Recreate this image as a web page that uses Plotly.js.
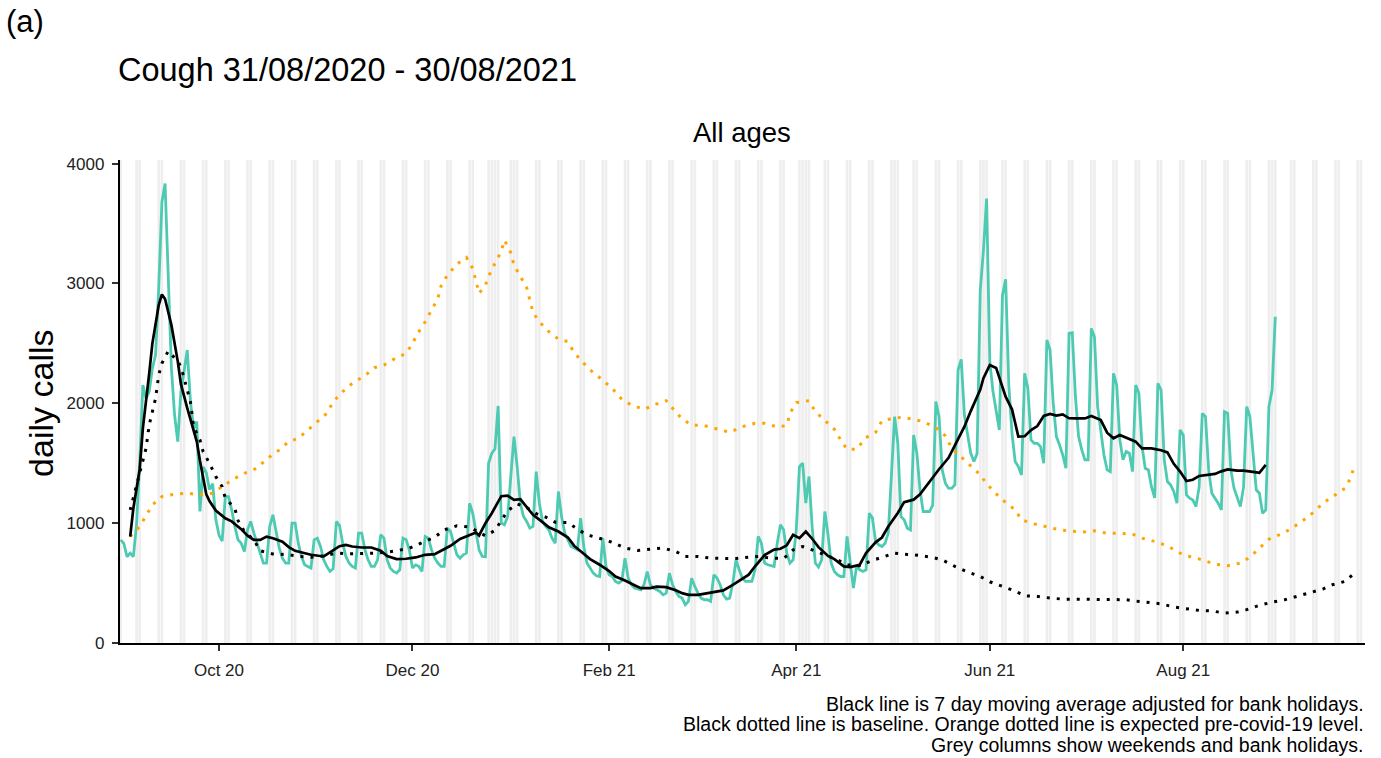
<!DOCTYPE html>
<html><head><meta charset="utf-8">
<script src="https://cdn.plot.ly/plotly-3.0.1.min.js"></script>
<style>html,body{margin:0;padding:0;background:#fff}#chart{width:1381px;height:758px}</style>
</head><body><div id="chart"></div>
<script>
// ---------- DATA ----------
const startDate = '2020-08-31';           // first day of the daily series
// daily calls, one row per week (Mon..Sun), from 31/08/2020 to 30/08/2021
const dailyCalls = [
  860, 830, 720, 750, 720, 985, 1500,
  2152, 2041, 2097, 2291, 2402, 2958, 3680,
  3833, 3013, 2291, 1902, 1680, 2097, 2263,
  2444, 2013, 1791, 1847, 1097, 1470, 1420,
  1280, 1330, 1030, 900, 850, 1222, 1222,
  1111, 972, 861, 833, 764, 945, 1014,
  917, 833, 764, 667, 667, 972, 1069,
  917, 792, 708, 667, 667, 1000, 1000,
  833, 722, 653, 639, 625, 861, 875,
  806, 694, 639, 597, 620, 1014, 980,
  833, 722, 667, 639, 625, 917, 917,
  778, 694, 639, 639, 694, 903, 875,
  694, 625, 597, 583, 611, 875, 861,
  777, 625, 652, 639, 597, 889, 875,
  777, 708, 667, 639, 639, 958, 930,
  833, 736, 708, 736, 750, 1166, 1083,
  916, 777, 722, 720, 1500, 1583, 1620,
  1978, 1000, 986, 1055, 1416, 1722, 1472,
  1167, 1055, 1014, 958, 972, 1430, 1167,
  1014, 972, 944, 875, 833, 1264, 1055,
  917, 861, 805, 792, 778, 1042, 805,
  667, 625, 583, 561, 555, 875, 639,
  569, 555, 514, 500, 520, 708, 541,
  486, 458, 450, 444, 486, 597, 486,
  458, 444, 430, 403, 416, 583, 486,
  430, 389, 375, 319, 347, 541, 472,
  416, 375, 361, 361, 347, 569, 541,
  486, 403, 366, 375, 500, 694, 611,
  541, 514, 514, 514, 611, 889, 833,
  667, 653, 644, 639, 833, 986, 944,
  750, 667, 694, 944, 1472, 1500, 1167,
  1389, 972, 667, 633, 694, 1097, 903,
  667, 597, 569, 555, 555, 889, 667,
  458, 639, 611, 597, 611, 1083, 1042,
  847, 819, 805, 833, 917, 1417, 1889,
  1667, 1055, 1028, 958, 944, 1736, 1583,
  1278, 1097, 1097, 1097, 1150, 2014, 1889,
  1444, 1333, 1292, 1290, 1320, 2278, 2366,
  1900, 1722, 1583, 1514, 1580, 2944, 3278,
  3708, 2350, 2100, 1930, 1778, 2900, 3035,
  2150, 1750, 1514, 1472, 1402, 2250, 2125,
  1694, 1666, 1666, 1639, 1500, 2528, 2444,
  2000, 1722, 1652, 1569, 1458, 2583, 2589,
  2055, 1722, 1611, 1528, 1528, 2625, 2555,
  1972, 1750, 1569, 1444, 1430, 2250, 2152,
  1694, 1528, 1597, 1583, 1430, 2152, 2083,
  1639, 1458, 1444, 1300, 1210, 2166, 2111,
  1528, 1347, 1319, 1264, 1166, 1778, 1736,
  1236, 1208, 1194, 1138, 1300, 1916, 1889,
  1444, 1250, 1208, 1166, 1111, 1930, 1916,
  1444, 1291, 1222, 1138, 1300, 1972, 1889,
  1611, 1278, 1250, 1083, 1111, 1972, 2111,
  2722
];

// 7 day moving average (days after startDate, calls)
const maDay = [3,4,6,7,9,10,12,13,14,16,18,19,21,22,24,25,27,28,30,33,35,38,40,42,44,46,48,51,53,55,58,60,64,66,69,71,73,76,79,82,84,87,90,93,96,99,102,104,107,110,112,113,115,117,118,120,122,124,126,128,130,133,135,138,141,143,146,148,151,154,156,159,162,164,167,169,172,175,177,179,182,185,188,190,193,195,198,200,203,206,208,210,212,214,216,218,220,223,225,228,230,233,235,238,240,242,245,247,250,252,255,258,261,263,266,268,271,272,274,276,279,281,283,285,287,289,291,293,295,297,299,301,304,306,309,311,313,315,318,320,322,325,328,330,332,334,336,338,340,343,345,347,349,352,354,357,359,361];
const maCalls = [888,1124,1450,1791,2250,2500,2820,2908,2870,2652,2350,2160,1960,1870,1680,1520,1240,1185,1105,1041,1015,950,895,860,860,888,874,845,800,769,748,736,722,755,808,818,805,797,797,770,725,700,703,714,736,741,780,811,868,903,922,897,1000,1083,1130,1225,1230,1195,1200,1139,1069,1008,966,930,880,810,740,700,653,600,555,522,482,458,458,470,466,440,416,402,402,416,428,439,485,522,570,640,733,779,786,815,903,875,930,870,800,727,700,639,633,653,750,840,880,972,1085,1175,1196,1240,1347,1450,1545,1653,1805,1935,2115,2210,2319,2295,2055,1950,1722,1725,1777,1810,1894,1911,1897,1908,1875,1874,1874,1894,1860,1755,1708,1736,1705,1680,1624,1624,1608,1590,1495,1430,1352,1362,1394,1402,1411,1432,1449,1438,1438,1428,1420,1486];

// baseline (black dotted)
const baselineDay = [3,4,6,8,9,10,11,12,13,15,18,19,20,21,22,23,25,26,28,30,32,33,36,37,39,42,44,49,52,56,60,64,68,72,76,80,83,87,91,94,95,99,102,106,110,113,115,118,120,122,125,128,131,134,137,141,144,147,152,155,159,163,167,171,175,178,182,186,190,194,198,201,205,209,212,215,218,222,226,229,233,237,241,244,248,252,256,259,263,267,271,274,278,282,285,289,293,297,301,305,309,313,317,321,324,328,332,336,340,344,348,352,355,359,363,367,371,375,379,382,386,389];
const baselineCalls = [1110,1213,1416,1624,1819,1930,2041,2236,2333,2436,2352,2305,2208,2125,2013,1805,1694,1597,1499,1388,1305,1208,1124,1022,930,860,769,736,741,722,716,727,750,744,744,750,755,769,791,824,839,883,944,978,967,922,894,939,1022,1103,1160,1130,1080,1050,1008,1005,950,903,866,839,792,772,783,792,764,722,722,708,705,705,716,722,708,705,777,805,777,733,694,652,644,689,722,750,739,730,714,694,639,593,555,511,472,433,394,389,375,366,366,366,361,361,361,347,339,327,300,283,272,267,250,258,278,314,341,361,389,422,450,486,514,583];

// expected pre-covid-19 level (orange dotted)
const expectedDay = [3,6,10,13,17,21,25,29,32,36,39,43,46,50,53,56,59,62,65,67,70,73,77,80,83,86,90,92,94,96,98,100,101,103,106,109,111,112,113,115,116,118,120,121,123,124,126,128,129,130,132,135,138,141,143,146,149,152,155,158,161,165,168,172,174,177,180,184,188,192,196,200,203,207,210,211,213,215,217,219,222,225,227,229,232,235,238,240,243,246,250,253,257,260,262,265,268,271,273,276,279,282,284,288,292,296,299,303,307,311,315,319,322,326,330,334,337,341,345,349,353,356,359,362,366,369,373,376,379,383,386,388,389];
const expectedCalls = [888,972,1152,1222,1241,1250,1236,1250,1305,1374,1416,1458,1535,1610,1680,1708,1777,1847,1916,2013,2097,2166,2230,2297,2319,2366,2416,2500,2597,2680,2778,2875,2978,3069,3161,3217,3125,3022,2917,2986,3061,3167,3269,3361,3255,3153,3061,2966,2861,2758,2680,2597,2536,2514,2422,2333,2255,2194,2122,2033,1986,1950,1986,2022,1958,1869,1819,1814,1786,1758,1805,1833,1833,1803,1814,1917,2005,2011,2022,1931,1855,1783,1694,1616,1616,1714,1758,1853,1872,1883,1867,1847,1797,1728,1625,1555,1478,1403,1328,1244,1172,1111,1027,994,972,944,936,925,936,916,916,908,875,847,811,750,722,694,658,644,667,716,791,866,911,953,1027,1089,1166,1236,1291,1389,1494];

const bankHolidays = ['2020-08-31','2020-12-25','2020-12-28','2021-01-01','2021-04-02','2021-04-05','2021-05-03','2021-05-31','2021-08-30'];
const greyEndDate = '2021-09-26';
const tickDates = ['2020-10-01','2020-12-01','2021-02-01','2021-04-01','2021-06-01','2021-08-01'];
const tickLabels = ['Oct 20','Dec 20','Feb 21','Apr 21','Jun 21','Aug 21'];
const yTicks = [0, 1000, 2000, 3000, 4000];

// ---------- HELPERS ----------
const DAY = 86400000;
const t0 = Date.parse(startDate + 'T00:00:00Z');
function fmt(ms){ return new Date(ms).toISOString().replace('T',' ').slice(0,19); }
function dayToDate(d){ return fmt(t0 + d*DAY); }

const dailyX = dailyCalls.map((_, i) => dayToDate(i));

// grey columns
const shapes = [];
function greyCol(ms){
  shapes.push({type:'rect', layer:'below', xref:'x', yref:'paper',
    x0: fmt(ms - 0.42*DAY), x1: fmt(ms + 0.42*DAY), y0:0, y1:1,
    fillcolor:'rgba(0,0,0,0.065)', line:{width:0}});
}
const tEnd = Date.parse(greyEndDate + 'T00:00:00Z');
for (let t = t0; t <= tEnd; t += DAY){
  const wd = new Date(t).getUTCDay();
  if (wd === 0 || wd === 6) greyCol(t);
}
bankHolidays.forEach(h => greyCol(Date.parse(h + 'T00:00:00Z')));

// ---------- TRACES ----------
const traces = [
  {x: dailyX, y: dailyCalls, type:'scatter', mode:'lines',
   line:{color:'#4ecab2', width:2.8}, hoverinfo:'skip', showlegend:false},
  {x: expectedDay.map(dayToDate), y: expectedCalls, type:'scatter', mode:'lines',
   line:{color:'#ffa500', width:3, dash:'3px,7px'}, hoverinfo:'skip', showlegend:false},
  {x: baselineDay.map(dayToDate), y: baselineCalls, type:'scatter', mode:'lines',
   line:{color:'#000000', width:3, dash:'3px,7px'}, hoverinfo:'skip', showlegend:false},
  {x: maDay.map(dayToDate), y: maCalls, type:'scatter', mode:'lines',
   line:{color:'#000000', width:2.7}, hoverinfo:'skip', showlegend:false}
];

const FONT = 'Liberation Sans, Arial, sans-serif';
const layout = {
  width:1381, height:758,
  paper_bgcolor:'#ffffff', plot_bgcolor:'#ffffff',
  margin:{l:120, r:16, t:160, b:115},
  font:{family:FONT, color:'#000'},
  showlegend:false,
  xaxis:{type:'date', range:['2020-08-30 19:00:00','2021-09-27 07:00:00'],
    tickvals: tickDates, ticktext: tickLabels,
    showline:true, linecolor:'#000', linewidth:2.2,
    ticks:'outside', ticklen:6, tickwidth:2, tickcolor:'#333', ticklabelstandoff:4,
    tickfont:{size:17, color:'#222', family:FONT},
    showgrid:false, zeroline:false, fixedrange:true},
  yaxis:{range:[0,4030], tickvals:yTicks,
    showline:true, linecolor:'#000', linewidth:2.2,
    ticks:'outside', ticklen:6, tickwidth:2, tickcolor:'#333', ticklabelstandoff:4,
    tickfont:{size:17, color:'#222', family:FONT},
    showgrid:false, zeroline:false, fixedrange:true},
  shapes: shapes,
  annotations:[
    {text:'(a)', xref:'paper', yref:'paper', x:-0.093, y:1.286, xanchor:'left', yanchor:'middle',
     showarrow:false, font:{size:31, family:FONT, color:'#000'}},
    {text:'Cough 31/08/2020 - 30/08/2021', xref:'paper', yref:'paper', x:-0.003, y:1.186, xanchor:'left', yanchor:'middle',
     showarrow:false, font:{size:32.5, family:FONT, color:'#000'}},
    {text:'All ages', xref:'paper', yref:'paper', x:0.4995, y:1.056, xanchor:'center', yanchor:'middle',
     showarrow:false, font:{size:27.5, family:FONT, color:'#000'}},
    {text:'daily calls', xref:'paper', yref:'paper', x:-0.0635, y:0.497, xanchor:'center', yanchor:'middle',
     textangle:-90, showarrow:false, font:{size:34, family:FONT, color:'#000'}},
    {text:'Black line is 7 day moving average adjusted for bank holidays.', xref:'paper', yref:'paper',
     x:1.001, y:-0.126, xanchor:'right', yanchor:'middle', showarrow:false, font:{size:19.5, family:FONT, color:'#000'}},
    {text:'Black dotted line is baseline. Orange dotted line is expected pre-covid-19 level.', xref:'paper', yref:'paper',
     x:1.001, y:-0.168, xanchor:'right', yanchor:'middle', showarrow:false, font:{size:19.5, family:FONT, color:'#000'}},
    {text:'Grey columns show weekends and bank holidays.', xref:'paper', yref:'paper',
     x:1.001, y:-0.211, xanchor:'right', yanchor:'middle', showarrow:false, font:{size:19.5, family:FONT, color:'#000'}}
  ]
};

Plotly.newPlot('chart', traces, layout, {staticPlot:true, displayModeBar:false});
</script>
</body></html>
